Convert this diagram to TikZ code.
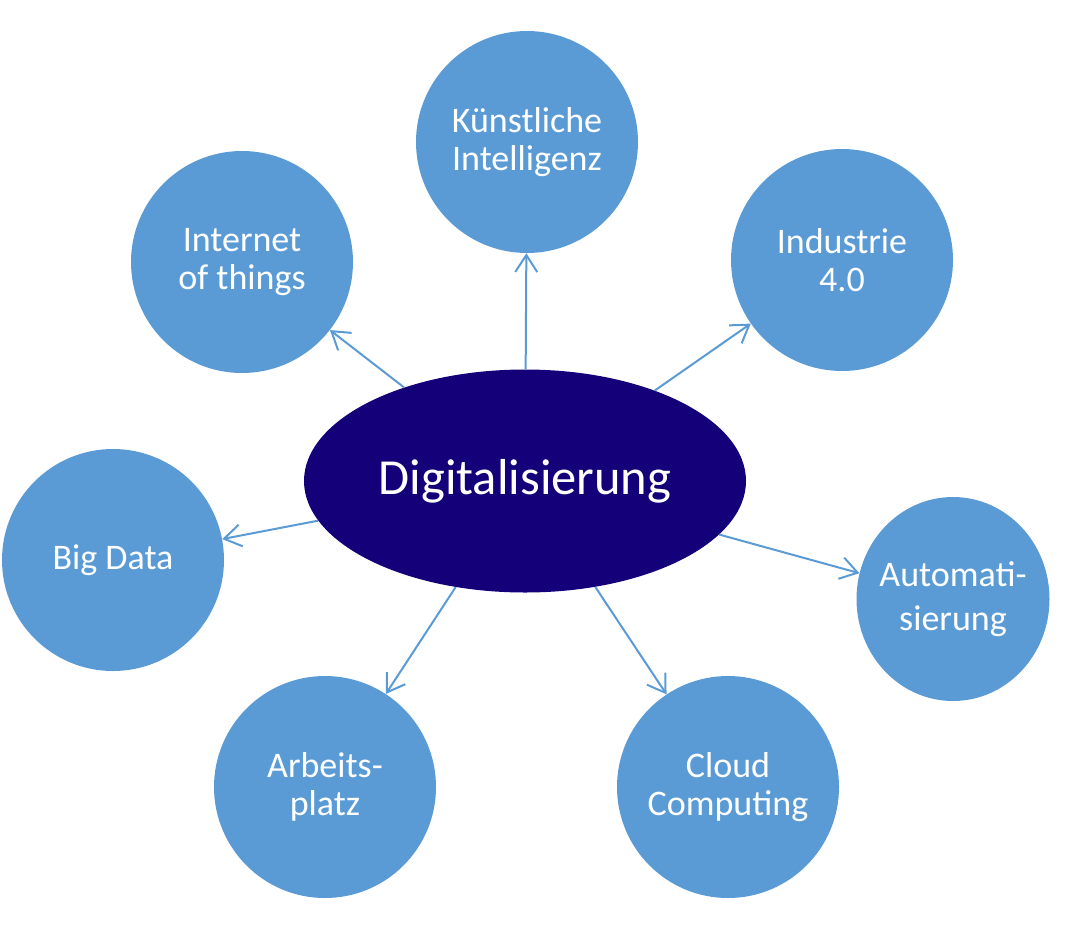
\documentclass[tikz,border=0pt]{standalone}
\usepackage{fontspec}
\setmainfont{Carlito}
\usetikzlibrary{shapes.geometric,arrows.meta}
\definecolor{bubble}{HTML}{5B9BD5}
\definecolor{core}{HTML}{140078}
\tikzset{
  bub/.style={circle, fill=bubble, inner sep=0pt, minimum size=222pt, text=white, align=center, font=\fontsize{36}{38}\selectfont},
  arr/.style={draw=bubble, line width=2pt, -{Straight Barb[length=17pt,width=22pt,line width=2pt]}},
}
\begin{document}
\begin{tikzpicture}[x=1pt,y=-1pt]
\useasboundingbox (0,0) rectangle (1067,927);
\node[ellipse, fill=core, inner sep=0pt, minimum width=442pt, minimum height=223pt, text=white, font=\fontsize{50.5}{60}\selectfont] (D) at (525,481) {Digitalisierung};
\node[bub] (KI) at (527,142) {Künstliche\\Intelligenz};
\node[bub] (IN) at (842,260) {Industrie\\4.0};
\node[bub] (IoT) at (242,262) {Internet\\of things};
\node[bub] (BD) at (113,560) {Big Data};
\node[ellipse, fill=bubble, inner sep=0pt, minimum width=193pt, minimum height=204pt,
      label={[text=white, align=center, font=\fontsize{36}{44}\selectfont]center:Automati-\\sierung}] (AU) at (953,599) {};
\node[bub] (AP) at (325,787) {Arbeits-\\platz};
\node[bub] (CC) at (728,787) {Cloud\\Computing};
\draw[arr] (D) -- (KI);
\draw[arr] (D) -- (IN);
\draw[arr] (D) -- (IoT);
\draw[arr] (D) -- (BD);
\draw[arr] (D) -- (AU);
\draw[arr] (D) -- (AP);
\draw[arr] (D) -- (CC);
\end{tikzpicture}
\end{document}
